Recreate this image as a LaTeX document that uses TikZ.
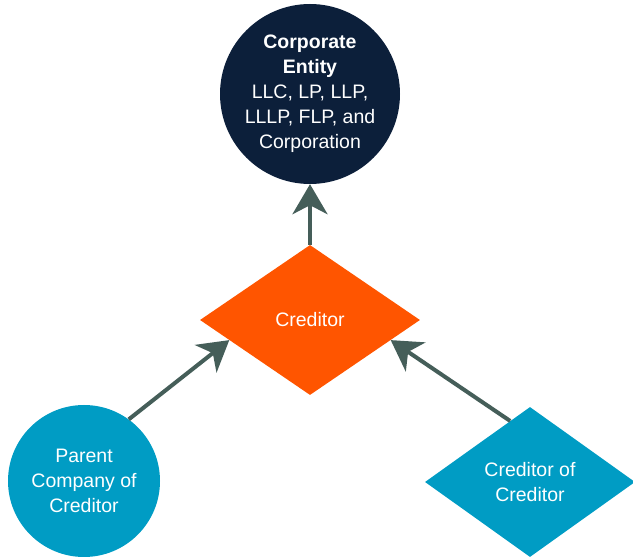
\documentclass[tikz,border=0pt]{standalone}
\usepackage{fontspec}
\setmainfont{Liberation Sans}
\usetikzlibrary{shapes.geometric,arrows.meta}
\definecolor{navy}{RGB}{12,31,58}
\definecolor{orangered}{RGB}{255,85,0}
\definecolor{teal}{RGB}{0,156,196}
\definecolor{arrowgray}{RGB}{69,94,89}
\tikzset{
	txt/.style={text=white, align=center, font=\fontsize{19.5}{25}\selectfont, inner sep=0pt},
	bigcircle/.style={txt, circle, fill=#1, draw=none},
	bigdiamond/.style={txt, diamond, fill=#1, draw=none},
	arr/.style={draw=arrowgray, line width=4pt, -{Stealth[length=30pt, width=35pt, inset=9pt]}}
}
\begin{document}
\begin{tikzpicture}[x=1pt, y=1pt]
	\useasboundingbox (0,0) rectangle (633,557);
	
	\node[bigcircle=navy, minimum size=180pt] (entity) at (310,463)
		{\textbf{Corporate}\\ \textbf{Entity}\\ LLC, LP, LLP,\\ LLLP, FLP, and\\ Corporation};
	\node[bigdiamond=orangered, minimum width=220pt, minimum height=150pt] (creditor) at (310,237) {Creditor};
	\node[bigcircle=teal, minimum size=152pt] (parent) at (84,76) {Parent\\ Company of\\ Creditor};
	\node[bigdiamond=teal, minimum width=210pt, minimum height=150pt] (credcred) at (530,75) {Creditor of\\ Creditor};
	
	\draw[arr] (creditor.north) -- (entity.south);
	\draw[arr] (parent.54) -- (creditor.194);
	\draw[arr] (credcred.108) -- (creditor.346);
	
\end{tikzpicture}
\end{document}
